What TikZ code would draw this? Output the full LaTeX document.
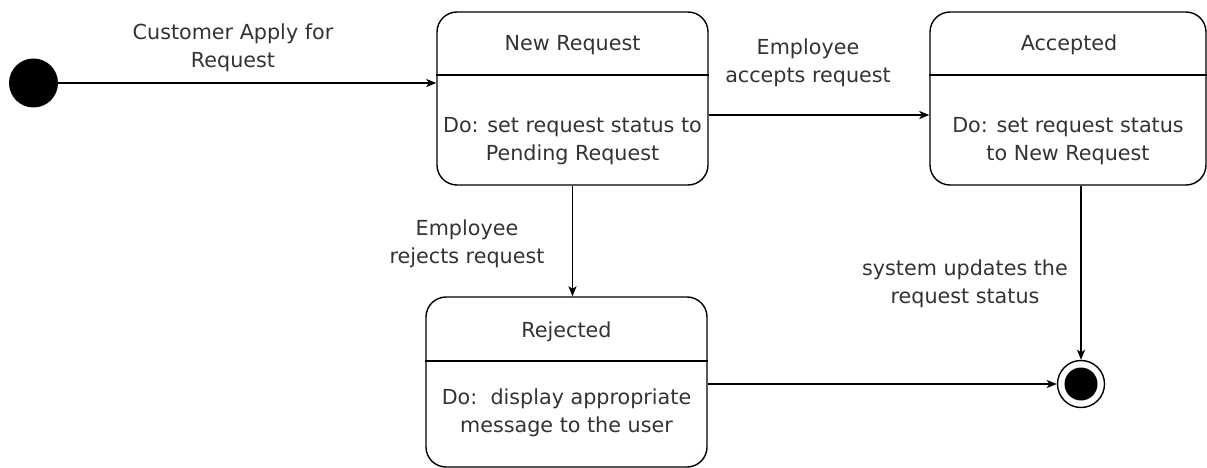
\documentclass[tikz,border=0pt]{standalone}
\usepackage{fontspec}
\setmainfont{DejaVu Sans}
\usetikzlibrary{arrows.meta}
\definecolor{txt}{HTML}{333333}
\tikzset{
  every node/.style={font=\fontsize{20.7pt}{28pt}\selectfont, text=txt, align=center, inner sep=0pt},
  statebox/.style={draw=black, line width=1.4pt, rounded corners=20pt, rectangle},
  divider/.style={draw=black, line width=1.4pt},
  arr/.style={draw=black, line width=1.4pt, -{Stealth[length=10pt, width=8pt, inset=2.5pt]}},
  startstate/.style={circle, fill=black, minimum size=49pt},
  endring/.style={circle, draw=black, line width=1.4pt, fill=white, minimum size=47pt},
  enddot/.style={circle, fill=black, minimum size=33pt}
}
\begin{document}
\begin{tikzpicture}[x=1pt, y=-1pt]
  \useasboundingbox (0,0) rectangle (1207,468);

  % initial and final states
  \node[startstate] (init) at (33.5,83) {};
  \node[endring] (fin) at (1081,384) {};
  \node[enddot] (findot) at (fin.center) {};

  % state boxes
  \node[statebox, minimum width=271pt, minimum height=173pt] (nr) at (572.5,98.5) {};
  \node[statebox, minimum width=276pt, minimum height=173pt] (acc) at (1068,98.5) {};
  \node[statebox, minimum width=281pt, minimum height=170pt] (rej) at (566.5,382) {};

  % compartment dividers
  \draw[divider] (nr.west |- 0,75) -- (nr.east |- 0,75);
  \draw[divider] (acc.west |- 0,75) -- (acc.east |- 0,75);
  \draw[divider] (rej.west |- 0,361) -- (rej.east |- 0,361);

  % state names and activities
  \node (nrtitle) at (572.5,45) {New Request};
  \node (nrbody) at (572.5,141) {Do: set request status to\\Pending Request};
  \node (acctitle) at (1069,45) {Accepted};
  \node (accbody) at (1068,141) {Do: set request status\\to New Request};
  \node (rejtitle) at (566.5,332) {Rejected};
  \node (rejbody) at (566.5,412.5) {Do:\ \ display appropriate\\message to the user};

  % transitions
  \draw[arr] (init.east) -- (init.east -| nr.west);
  \draw[arr] (nr.east |- 0,115) -- (acc.west |- 0,115);
  \draw[arr] (nr.south) -- (nr.south |- rej.north);
  \draw[arr] (acc.south -| fin) -- (fin.north);
  \draw[arr] (rej.east |- fin) -- (fin.west);

  % transition labels
  \node (l1) at (233,47.5) {Customer Apply for\\Request};
  \node (l2) at (808,62.5) {Employee\\accepts request};
  \node (l3) at (467,244) {Employee\\rejects request};
  \node (l4) at (965,283.5) {system updates the\\request status};
\end{tikzpicture}
\end{document}
